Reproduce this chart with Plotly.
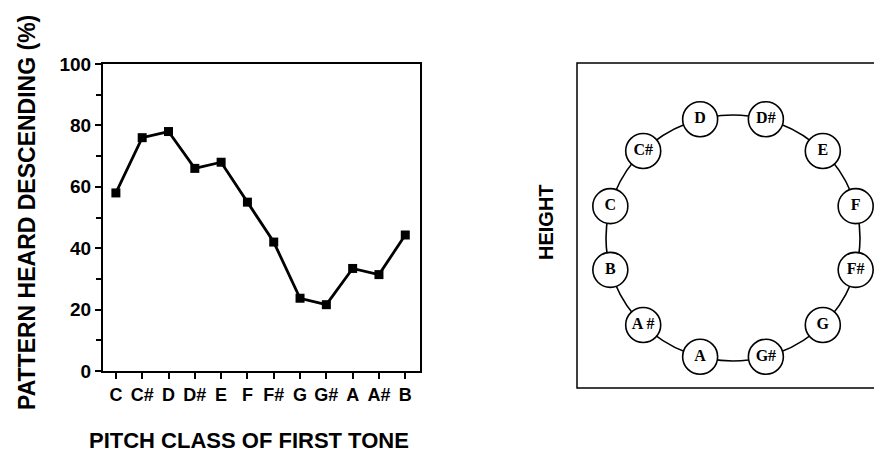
import math
import plotly.graph_objects as go

W, H = 874, 452

# ---- data ----
pitch_classes = ["C", "C#", "D", "D#", "E", "F", "F#", "G", "G#", "A", "A#", "B"]
pct_descending = [58, 76, 78, 66, 68, 55, 42, 23.7, 21.6, 33.4, 31.4, 44.3]
y_ticks = [0, 20, 40, 60, 80, 100]

ring_labels = ["D", "D#", "E", "F", "F#", "G", "G#", "A", "A #", "B", "C", "C#"]
ring_angles_deg = [105, 75, 45, 15, -15, -45, -75, -105, -135, -165, 165, 135]

RX, RY = 127, 123
ring_x = [RX * math.cos(math.radians(a)) for a in ring_angles_deg]
ring_y = [RY * math.sin(math.radians(a)) for a in ring_angles_deg]


def px(x):
    return x / W


def py(y):
    return 1 - y / H


fig = go.Figure()

fig.add_trace(go.Scatter(
    x=list(range(len(pitch_classes))), y=pct_descending,
    mode="lines+markers",
    line=dict(color="black", width=2.8),
    marker=dict(symbol="square", size=9, color="black"),
    xaxis="x", yaxis="y", showlegend=False, cliponaxis=False,
))

fig.add_trace(go.Scatter(
    x=ring_x, y=ring_y, mode="markers+text", text=ring_labels,
    textposition="middle center",
    textfont=dict(family="Liberation Serif", size=16, color="black", weight="bold"),
    marker=dict(size=35, color="white", line=dict(color="black", width=1.6)),
    xaxis="x2", yaxis="y2", showlegend=False, cliponaxis=False,
))

bold = dict(family="Liberation Sans", color="black", weight="bold")

fig.update_layout(
    width=W, height=H,
    margin=dict(l=0, r=0, t=0, b=0, autoexpand=False),
    paper_bgcolor="white", plot_bgcolor="white",
    xaxis=dict(
        domain=[px(103), px(420)], range=[-0.49, 11.56],
        tickmode="array", tickvals=list(range(len(pitch_classes))), ticktext=pitch_classes,
        ticks="outside", ticklen=6, tickwidth=1.5, tickcolor="black",
        tickfont=dict(size=18, **bold),
        showline=True, linecolor="black", linewidth=2, mirror=True,
        showgrid=False, zeroline=False, anchor="y", automargin=False,
    ),
    yaxis=dict(
        domain=[py(371), py(64)], range=[0, 100],
        tickmode="array", tickvals=y_ticks,
        ticks="outside", ticklen=6, tickwidth=1.5, tickcolor="black",
        minor=dict(dtick=10, ticks="outside", ticklen=5, tickwidth=1.5, tickcolor="black"),
        tickfont=dict(size=19, **bold),
        showline=True, linecolor="black", linewidth=2, mirror=True,
        showgrid=False, zeroline=False, anchor="x", automargin=False,
    ),
    xaxis2=dict(
        domain=[px(577), 1.0], range=[577 - 733, 874 - 733],
        visible=False, anchor="y2",
    ),
    yaxis2=dict(
        domain=[py(388), py(63)], range=[-(388 - 238), 238 - 63],
        visible=False, anchor="x2",
    ),
    shapes=[
        dict(type="rect", xref="paper", yref="paper",
             x0=px(577), x1=1.2, y0=py(388), y1=py(63),
             line=dict(color="black", width=1.5), layer="below"),
        dict(type="circle", xref="x2", yref="y2",
             x0=-RX, x1=RX, y0=-RY, y1=RY,
             line=dict(color="black", width=1.6), layer="below"),
    ],
    annotations=[
        dict(text="PATTERN HEARD DESCENDING (%)", xref="paper", yref="paper",
             x=px(27), y=py(213), xanchor="center", yanchor="middle",
             textangle=-90, showarrow=False,
             font=dict(size=23, **bold)),
        dict(text="PITCH CLASS OF FIRST TONE", xref="paper", yref="paper",
             x=px(249), y=py(440), xanchor="center", yanchor="middle",
             showarrow=False,
             font=dict(size=22, **bold)),
        dict(text="HEIGHT", xref="paper", yref="paper",
             x=px(546), y=py(222), xanchor="center", yanchor="middle",
             textangle=-90, showarrow=False,
             font=dict(size=20, **bold)),
    ],
)

fig.write_html(
    "out.html",
    config={"displayModeBar": False},
    post_script="document.body.style.margin='0';document.body.style.overflow='hidden';",
)
